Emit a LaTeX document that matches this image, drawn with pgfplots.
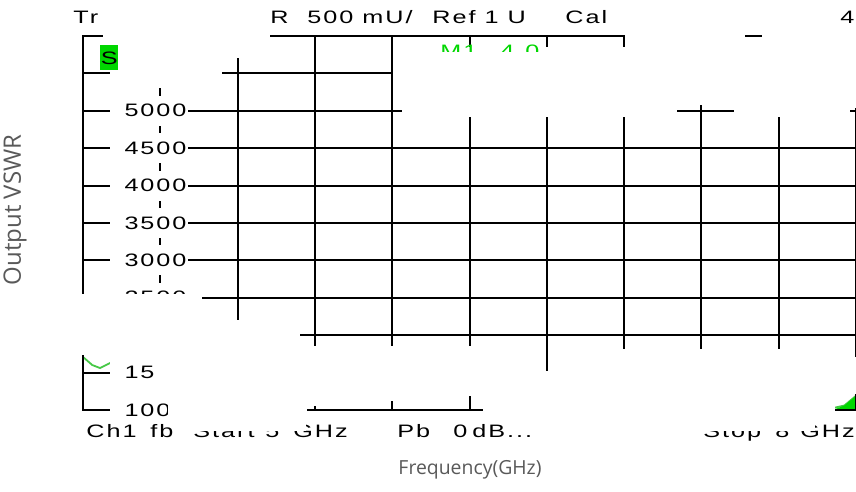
\documentclass[border=0pt]{standalone}
\usepackage{fontspec}
\setmainfont{Liberation Sans}
\newfontfamily\inst[FakeStretch=1.4, LetterSpace=11]{Liberation Sans}
\newfontfamily\lblfont{Open Sans}
\usepackage{pgfplots}
\pgfplotsset{compat=1.18}
\definecolor{vna}{RGB}{0,215,0}
\definecolor{trace}{RGB}{70,200,70}
\definecolor{lblgray}{RGB}{89,89,89}
\newcommand{\instf}{\inst\fontsize{9}{10}\selectfont}

\begin{document}
\begin{tikzpicture}
\useasboundingbox (0,0) rectangle (428pt,246pt);
\begin{axis}[
  at={(41.5pt,41pt)}, anchor=south west,
  scale only axis, width=386.5pt, height=187pt,
  xmin=0, xmax=10, ymin=1000, ymax=6000,
  xtick={0,...,10}, xticklabels={},
  ytick={1000,1500,...,5000},
  yticklabels={1000,1500,2000,2500,3000,3500,4000,4500,5000},
  extra y ticks={5500,6000}, extra y tick labels={},
  extra y tick style={grid=major, tick label style={fill=none}},
  grid=major,
  grid style={black, line width=1pt},
  axis line style={black, line width=1pt},
  major tick length=0pt,
  axis on top,
  yticklabel style={font=\instf, fill=white, anchor=center, xshift=33pt,
    text width=37.5pt, align=right, inner xsep=0.75pt, inner ysep=0pt, minimum height=15pt},
]
\addplot[trace, line width=0.9pt, no markers] coordinates {
  (0,1709) (0.12,1601) (0.22,1561) (0.35,1628) (0.6,1500) (1,1380)
  (1.5,1300) (2,1280) (3,1330) (4,1260) (5,1300) (5.9,1270)
  (6.5,1250) (7,1200) (8,1280) (9,1150) (9.6,1060) (9.72,1030)
  (9.85,1060) (10,1190)};
\addplot[fill=vna, draw=none] coordinates {(9.70,1000) (9.85,1060) (10,1190)} \closedcycle;
\end{axis}
\begin{scope}[x=0.5pt,y=-0.5pt,yshift=246pt]
  % white masks
  \fill[white] (103,26) rectangle (270,58);
  \fill[white] (112,58) rectangle (222,88);
  \fill[white] (393,47) rectangle (677,105);
  \fill[white] (402,105) rectangle (677,117);
  \fill[white] (677,47) rectangle (734,105);
  \fill[white] (734,47) rectangle (850,117);
  \fill[white] (850,47) rectangle (862,108);
  \fill[white] (625,28) rectangle (745,47);
  \fill[white] (762,28) rectangle (862,47);
  \fill[white] (76,294) rectangle (202,355);
  \fill[white] (202,320) rectangle (300,360);
  \fill[white] (155,346) rectangle (544,396);
  \fill[white] (168,396) rectangle (307,420);
  \fill[white] (310,396) rectangle (322,406);
  \fill[white] (385,396) rectangle (397,401);
  \fill[white] (483,371) rectangle (835,420);
  \fill[white] (552,349) rectangle (835,371);
  \fill[white] (835,357) rectangle (862,394);
  % header
  \node[anchor=base west, inner sep=0, font=\instf] at (73,24) {Tr};
  \node[anchor=base west, inner sep=0, font=\instf] at (270,24) {R};
  \node[anchor=base west, inner sep=0, font=\instf] at (307,24) {500 mU/};
  \node[anchor=base west, inner sep=0, font=\instf] at (432,24) {Ref 1 U};
  \node[anchor=base west, inner sep=0, font=\instf] at (565,24) {Cal};
  \node[anchor=base west, inner sep=0, font=\instf] at (840,24) {4};
  % footer
  \node[anchor=base west, inner sep=0, font=\instf] at (86,438) {Ch1};
  \node[anchor=base west, inner sep=0, font=\instf] at (150,438) {fb};
  \node[anchor=base west, inner sep=0, font=\instf] at (193,438) {Start};
  \node[anchor=base west, inner sep=0, font=\instf] at (265,438) {5};
  \node[anchor=base west, inner sep=0, font=\instf] at (293,438) {GHz};
  \node[anchor=base west, inner sep=0, font=\instf] at (397,438) {Pb};
  \node[anchor=base west, inner sep=0, font=\instf] at (453,438) {0};
  \node[anchor=base west, inner sep=0, font=\instf] at (472,438) {dB...};
  \node[anchor=base west, inner sep=0, font=\instf] at (703,438) {Stop};
  \node[anchor=base west, inner sep=0, font=\instf] at (775,438) {8};
  \node[anchor=base west, inner sep=0, font=\instf] at (800,438) {GHz};
  \fill[white] (188,418) rectangle (306,431);
  \fill[white] (698,418) rectangle (815,431);
  % marker
  \node[fill=vna, anchor=north west, inner sep=0pt, minimum width=9pt,
        minimum height=12.5pt, font=\instf] at (100,45) {S};
  \node[anchor=base west, inner sep=0, font=\instf, text=vna] at (440,58) {M1};
  \node[anchor=base west, inner sep=0, font=\instf, text=vna] at (500,58) {4.0};
  \fill[white] (430,52) rectangle (560,66);
  % axis titles
  \node[rotate=90, font=\lblfont\fontsize{12}{14}\selectfont, text=lblgray] at (15,210) {Output VSWR};
  \node[font=\lblfont\fontsize{9.7}{12}\selectfont, text=lblgray] at (470,470) {Frequency(GHz)};
\end{scope}
\end{tikzpicture}
\end{document}
